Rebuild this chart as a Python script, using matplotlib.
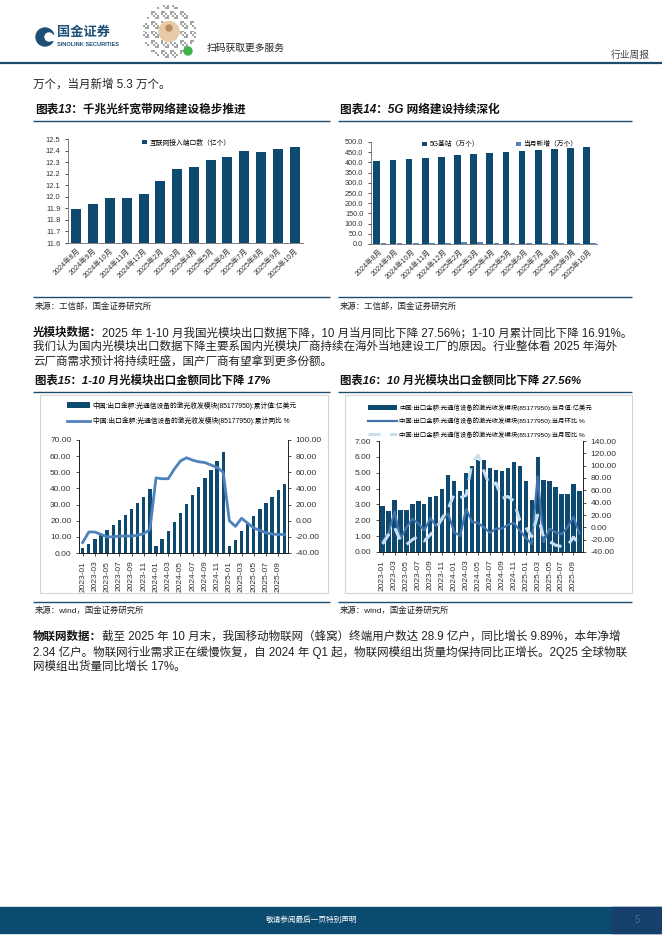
import numpy as np
import matplotlib
matplotlib.use('Agg')
import matplotlib.pyplot as plt
from matplotlib.patches import Rectangle, Circle
from matplotlib.ticker import FormatStrFormatter

plt.rcParams['font.family'] = ['Liberation Sans', 'Noto Sans CJK SC', 'DejaVu Sans']

# ---- data ----
months13 = ['2024年8月', '2024年9月', '2024年10月', '2024年11月', '2024年12月', '2025年2月',
            '2025年3月', '2025年4月', '2025年5月', '2025年6月', '2025年7月', '2025年8月',
            '2025年9月', '2025年10月']
ports = [11.89, 11.94, 11.99, 11.99, 12.02, 12.14, 12.24, 12.26, 12.32, 12.34, 12.40, 12.39, 12.41, 12.43]
bs5g = [405, 410, 416, 421, 426, 436, 440, 446, 451, 456, 461, 466, 471, 476]
bs_new = [4.4, 5.1, 5.2, 4.6, 5.9, 10.4, 9.6, 4.0, 4.0, 5.6, 4.3, 4.6, 4.9, 5.3]

months = [f'{y}-{m:02d}' for y in (2023, 2024, 2025) for m in range(1, 13)][:34]
cum_value = [3.2, 5.6, 8.7, 11.2, 14.4, 17.4, 20.5, 23.6, 27.3, 31.0, 34.7, 39.7,
             4.3, 8.5, 13.6, 19.1, 24.8, 30.4, 35.8, 40.9, 46.4, 51.4, 57.0, 62.6,
             4.4, 8.1, 13.6, 18.1, 22.9, 27.2, 31.0, 34.7, 39.0, 42.8]
cum_yoy = [-27, -14, -14, -17, -20, -20, -19, -19, -19, -18, -16, -11,
           53, 52, 52, 64, 74, 78, 75, 73, 72, 69, 66, 60,
           0, -7, 3, -3, -9, -12, -15, -16.5, -17, -16.91]
monthly = [2.9, 2.6, 3.28, 2.65, 2.65, 3.03, 3.2, 3.03, 3.47, 3.53, 3.97, 4.85,
           4.47, 3.84, 4.98, 5.42, 5.8, 5.8, 5.3, 5.2, 5.1, 5.3, 5.67, 5.4,
           4.47, 3.28, 5.99, 4.54, 4.47, 4.1, 3.66, 3.66, 4.29, 3.85]
mom = [-22, -10, 26, -19, 0, 14, 6, -5, 15, 2, 12, 22,
       -8, -14, 30, 9, 7, 0, -9, -2, -2, 4, 7, -5,
       -17, -27, 83, -24, -2, -8, -11, 0, 17, -10]
yoy = [-27, -12, 0, -22, -28, -20, -14, -22, -12, -2, 15, 30,
       54, 48, 52, 105, 117, 91, 66, 72, 47, 50, 43, 11,
       0, -15, 20, -16, -23, -29, -31, -30, -16, -27.56]

BLUE = '#0e4a70'
LIGHT = '#4f81bd'
TEAL = '#1d4d6c'
TXT = '#222222'
BODY = 8.3

W, H = 662, 936
fig = plt.figure(figsize=(W / 100, H / 100), dpi=100)
bg = fig.add_axes([0, 0, 1, 1])
bg.set_xlim(0, W)
bg.set_ylim(H, 0)
bg.axis('off')


def rect(x0, y0, x1, y1):
    return [x0 / W, 1 - y1 / H, (x1 - x0) / W, (y1 - y0) / H]


def hline(y, x0, x1, color=TEAL, lw=1.0):
    bg.plot([x0, x1], [y, y], color=color, lw=lw, solid_capstyle='butt')


# ---- header ----
bg.add_patch(Circle((45, 37), 9, color='#1d4f77'))
bg.add_patch(Circle((49, 37), 4, color='white'))
bg.add_patch(Rectangle((49, 34.5), 6, 5, color='white'))
bg.text(57, 33, '国金证券', fontsize=9.5, fontweight='bold', color='#1d4f77', va='center')
bg.text(57, 44, 'SINOLINK SECURITIES', fontsize=4.1, fontweight='bold', color='#1d4f77', va='center')

# qr badge
n = 27
ii, jj = np.indices((n, n))
pat = (((ii * 7 + jj * 13 + ii * jj) % 5) < 2).astype(float)
rr = np.hypot(ii - n / 2 + 0.5, jj - n / 2 + 0.5)
pat[rr > n / 2] = 0
pat[rr < 6] = 0
bg.imshow(pat, cmap='Greys', vmin=0, vmax=2.2, extent=(143, 196, 58, 5), interpolation='nearest', zorder=1)
bg.add_patch(Circle((169, 31.5), 10, color='#e8c9a8', zorder=2))
bg.add_patch(Circle((169, 28), 3, color='#b98b5e', zorder=3))
bg.add_patch(Circle((188, 51), 4, color='#3cb34a', zorder=3))
bg.text(207, 48, '扫码获取更多服务', fontsize=7, color=TXT, va='center')
bg.text(611, 55, '行业周报', fontsize=7, color='#444444', va='center')
hline(63, 0, W, color=TEAL, lw=1.6)

bg.text(33, 85, '万个，当月新增 5.3 万个。', fontsize=BODY, color=TXT, va='center')

# ---- titles / rules ----
bg.text(35, 110, '图表13：千兆光纤宽带网络建设稳步推进', fontsize=8.4, fontweight='bold', style='italic', va='center', color='#111111')
bg.text(340, 110, '图表14：5G 网络建设持续深化', fontsize=8.4, fontweight='bold', style='italic', va='center', color='#111111')
hline(121, 33, 330)
hline(121, 338, 632)
hline(297, 33, 330)
hline(297, 338, 632)
bg.text(35, 307, '来源：工信部，国金证券研究所', fontsize=6, color=TXT, va='center')
bg.text(340, 307, '来源：工信部，国金证券研究所', fontsize=6, color=TXT, va='center')

bg.text(35, 380, '图表15：1-10 月光模块出口金额同比下降 17%', fontsize=8.2, fontweight='bold', style='italic', va='center', color='#111111')
bg.text(340, 380, '图表16：10 月光模块出口金额同比下降 27.56%', fontsize=8.2, fontweight='bold', style='italic', va='center', color='#111111')
hline(392, 33, 330)
hline(392, 338, 632)
hline(602, 33, 330)
hline(602, 338, 632)
bg.text(35, 611, '来源：wind，国金证券研究所', fontsize=6, color=TXT, va='center')
bg.text(340, 611, '来源：wind，国金证券研究所', fontsize=6, color=TXT, va='center')
bg.add_patch(Rectangle((40, 395), 288, 198, fill=False, edgecolor='#d4d4d4', lw=0.8))
bg.add_patch(Rectangle((345, 395), 287, 198, fill=False, edgecolor='#d4d4d4', lw=0.8))


# ---- paragraphs ----
def para_line(y, bold, rest):
    x = 33
    if bold:
        t = bg.text(x, y, bold, fontsize=BODY, fontweight='bold', color='#111111', va='center')
        fig.canvas.draw()
        bb = t.get_window_extent().transformed(bg.transData.inverted())
        x = bb.x1
    bg.text(x, y, rest, fontsize=BODY, color=TXT, va='center')


para_line(333, '光模块数据：', '2025 年 1-10 月我国光模块出口数据下降，10 月当月同比下降 27.56%；1-10 月累计同比下降 16.91%。')
para_line(347, '', '我们认为国内光模块出口数据下降主要系国内光模块厂商持续在海外当地建设工厂的原因。行业整体看 2025 年海外')
para_line(362, '', '云厂商需求预计将持续旺盛，国产厂商有望拿到更多份额。')
para_line(637, '物联网数据：', '截至 2025 年 10 月末，我国移动物联网（蜂窝）终端用户数达 28.9 亿户，同比增长 9.89%，本年净增')
para_line(652, '', '2.34 亿户。物联网行业需求正在缓慢恢复，自 2024 年 Q1 起，物联网模组出货量均保持同比正增长。2Q25 全球物联')
para_line(667, '', '网模组出货量同比增长 17%。')

# ---- footer ----
bg.add_patch(Rectangle((0, 907), W, 26, color='#0b4b70'))
bg.add_patch(Rectangle((612, 907), 50, 26, color='#173f6c'))
bg.text(312, 920, '敬请参阅最后一页特别声明', fontsize=5.5, color='white', ha='center', va='center')
bg.text(637, 920, '5', fontsize=7, color='#3b6ea5', ha='center', va='center')


def base_style(ax, fs, spines=('left', 'bottom'), color='#808080'):
    ax.patch.set_alpha(0)
    for s in ('left', 'right', 'top', 'bottom'):
        ax.spines[s].set_visible(s in spines)
        ax.spines[s].set_color(color)
        ax.spines[s].set_linewidth(0.7)
    ax.tick_params(labelsize=fs, width=0.6, length=2, colors='#333333')


# ---- chart 13 ----
x13 = np.arange(len(months13))
ax1 = fig.add_axes(rect(68, 139, 303, 243))
ax1.bar(x13, ports, width=0.6, color=BLUE, label='互联网接入端口数（亿个）')
ax1.set_ylim(11.6, 12.5)
ax1.set_yticks(np.arange(11.6, 12.51, 0.1))
ax1.yaxis.set_major_formatter(FormatStrFormatter('%.1f'))
ax1.set_xlim(-0.5, len(months13) - 0.5)
ax1.set_xticks(x13)
ax1.set_xticklabels(months13, rotation=45, ha='right', rotation_mode='anchor')
base_style(ax1, 5.4)
ax1.tick_params(axis='x', length=0, pad=3, labelsize=5.2)
ax1.legend(loc='upper left', bbox_to_anchor=(139 / W, 1 - 136 / H), bbox_transform=fig.transFigure,
           frameon=False, fontsize=4.9, handlelength=0.7, handleheight=0.7, handletextpad=0.3, borderpad=0)

# ---- chart 14 ----
ax2 = fig.add_axes(rect(371, 142, 597, 244))
ax2.bar(x13 - 0.14, bs5g, width=0.42, color=BLUE, label='5G基站（万个）')
ax2.bar(x13 + 0.27, bs_new, width=0.36, color=LIGHT, label='当月新增（万个）')
ax2.set_ylim(0, 500)
ax2.set_yticks(np.arange(0, 501, 50))
ax2.yaxis.set_major_formatter(FormatStrFormatter('%.1f'))
ax2.set_xlim(-0.5, len(months13) - 0.5)
ax2.set_xticks(x13)
ax2.set_xticklabels(months13, rotation=45, ha='right', rotation_mode='anchor')
base_style(ax2, 5.3)
ax2.tick_params(axis='x', length=0, pad=3, labelsize=5.2)
ax2.legend(loc='upper left', bbox_to_anchor=(419 / W, 1 - 138 / H), bbox_transform=fig.transFigure, ncol=2,
           frameon=False, fontsize=4.9, handlelength=0.7, handleheight=0.7, handletextpad=0.3,
           columnspacing=5.5, borderpad=0)

# ---- chart 15 ----
x = np.arange(len(months))
ax3 = fig.add_axes(rect(79, 440, 288, 553))
b3 = ax3.bar(x, cum_value, width=0.55, color=BLUE)
ax3.set_ylim(0, 70)
ax3.set_yticks(np.arange(0, 71, 10))
ax3.yaxis.set_major_formatter(FormatStrFormatter('%.2f'))
ax3.set_xlim(-0.6, len(months) - 0.4)
ax3.set_xticks(x[::2])
ax3.set_xticklabels(months[::2], rotation=90)
ax3r = ax3.twinx()
l3, = ax3r.plot(x, cum_yoy, color=LIGHT, lw=2)
ax3r.set_ylim(-40, 100)
ax3r.set_yticks(np.arange(-40, 101, 20))
ax3r.yaxis.set_major_formatter(FormatStrFormatter('%.2f'))
base_style(ax3, 6, spines=('left', 'bottom'), color='#222222')
base_style(ax3r, 6, spines=('left', 'right', 'bottom'), color='#222222')
ax3.tick_params(axis='x', length=2)
ax3.legend([b3, l3], ['中国:出口金额:光通信设备的激光收发模块(85177950):累计值:亿美元',
                      '中国:出口金额:光通信设备的激光收发模块(85177950):累计同比 %'],
           loc='upper left', bbox_to_anchor=(64 / W, 1 - 398 / H), bbox_transform=fig.transFigure,
           frameon=False, fontsize=4.9, handlelength=3.3, handleheight=0.9, handletextpad=0.4,
           labelspacing=1.1, borderpad=0)

# ---- chart 16 ----
ax4 = fig.add_axes(rect(379, 441, 583, 552))
b4 = ax4.bar(x, monthly, width=0.72, color=BLUE)
ax4.set_ylim(0, 7)
ax4.set_yticks(np.arange(0, 7.01, 1))
ax4.yaxis.set_major_formatter(FormatStrFormatter('%.2f'))
ax4.set_xlim(-0.6, len(months) - 0.4)
ax4.set_xticks(x[::2])
ax4.set_xticklabels(months[::2], rotation=90)
ax4r = ax4.twinx()
l4a, = ax4r.plot(x, mom, color='#4174ad', lw=1.6)
l4b, = ax4r.plot(x, yoy, color='#c9dff0', lw=2.2, ls=(0, (4, 3)))
ax4r.set_ylim(-40, 140)
ax4r.set_yticks(np.arange(-40, 141, 20))
ax4r.yaxis.set_major_formatter(FormatStrFormatter('%.2f'))
base_style(ax4, 6, spines=('left', 'bottom'), color='#222222')
base_style(ax4r, 6, spines=('left', 'right', 'bottom'), color='#222222')
ax4.tick_params(axis='x', length=2)
ax4.legend([b4, l4a, l4b], ['中国:出口金额:光通信设备的激光收发模块(85177950):当月值:亿美元',
                            '中国:出口金额:光通信设备的激光收发模块(85177950):当月环比 %',
                            '中国:出口金额:光通信设备的激光收发模块(85177950):当月同比 %'],
           loc='upper left', bbox_to_anchor=(365 / W, 1 - 401 / H), bbox_transform=fig.transFigure,
           frameon=False, fontsize=4.55, handlelength=4.5, handleheight=0.9, handletextpad=0.4,
           labelspacing=1.05, borderpad=0)

fig.savefig('out.png', dpi=100)
